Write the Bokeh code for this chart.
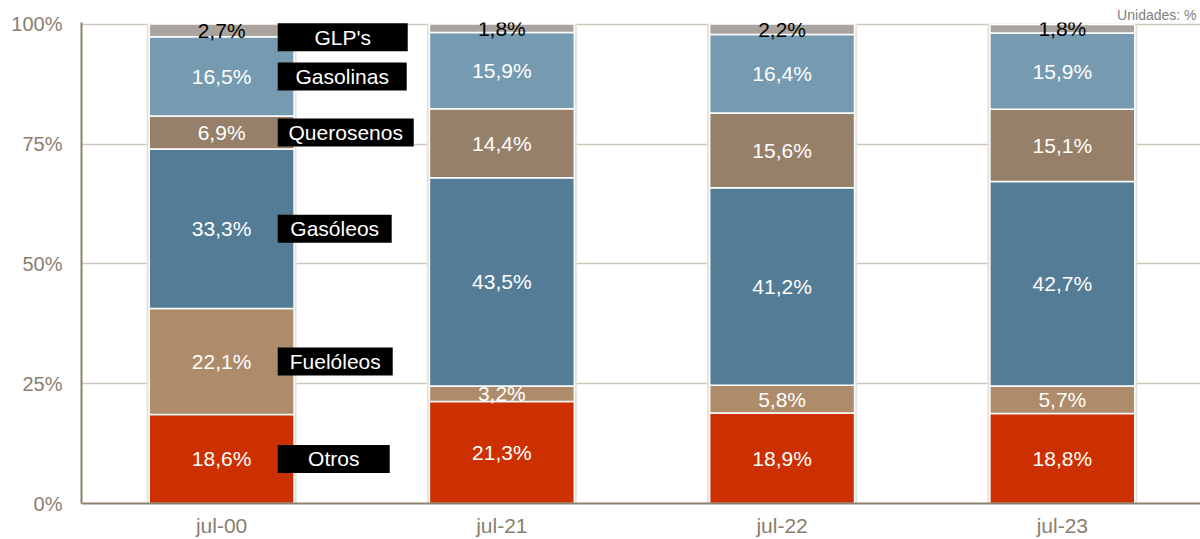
from bokeh.plotting import figure
from bokeh.models import ColumnDataSource, Range1d, FixedTicker
from bokeh.core.properties import value
from bokeh.embed import file_html
from bokeh.resources import INLINE

categories = ["jul-00", "jul-21", "jul-22", "jul-23"]
series = ["Otros", "Fuelóleos", "Gasóleos", "Querosenos", "Gasolinas", "GLP's"]
otros = [18.6, 21.3, 18.9, 18.8]
fueloleos = [22.1, 3.2, 5.8, 5.7]
gasoleos = [33.3, 43.5, 41.2, 42.7]
querosenos = [6.9, 14.4, 15.6, 15.1]
gasolinas = [16.5, 15.9, 16.4, 15.9]
glps = [2.7, 1.8, 2.2, 1.8]
y_ticks = [0, 25, 50, 75, 100]
units_note = "Unidades: %"

values = [otros, fueloleos, gasoleos, querosenos, gasolinas, glps]
colors = ["#cc3000", "#ad8b6b", "#547c96", "#978069", "#769bb0", "#aba49e"]
label_colors = ["white", "white", "white", "white", "white", "black"]
box_widths = [112, 115, 114, 136, 129, 130]

FONT = "Liberation Sans"
xs = [i + 0.5 for i in range(len(categories))]

data = {"x": xs}
for name, vals in zip(series, values):
    data[name] = vals
src = ColumnDataSource(data)

p = figure(width=1200, height=539, output_backend="svg", toolbar_location=None,
           x_range=Range1d(0, 3.993), y_range=Range1d(0, 100.4),
           min_border_left=81, min_border_right=0, min_border_top=22, min_border_bottom=34,
           title=units_note)
p.title.align = "right"
p.title.text_font = FONT
p.title.text_font_size = "14px"
p.title.text_font_style = "normal"
p.title.text_color = "#808080"
p.title.standoff = 0
p.title.offset = 4
p.outline_line_color = None
p.background_fill_color = "white"
p.border_fill_color = "white"

# shadow behind bars
totals = [sum(v[i] for v in values) for i in range(len(categories))]
p.vbar(x=xs, top=totals, bottom=0, width=0.535, fill_color="#e4e0dc", line_color=None)

p.vbar_stack(series, x="x", width=0.517, source=src, fill_color=colors,
             line_color="white", line_width=1.5)

# value labels
lx, ly, lt, lc = [], [], [], []
for j, (name, vals) in enumerate(zip(series, values)):
    for i, v in enumerate(vals):
        base = sum(values[k][i] for k in range(j))
        lx.append(xs[i])
        ly.append(base + v / 2)
        lt.append(f"{v:.1f}%".replace(".", ","))
        lc.append(label_colors[j])
p.text(x=lx, y=ly, text=lt, text_color=lc, text_font=value(FONT),
       text_font_size="21px", text_align="center", text_baseline="middle")

# series name boxes next to first bar
bx, by, bt = [], [], []
for j, (name, vals) in enumerate(zip(series, values)):
    base = sum(values[k][0] for k in range(j))
    mid = min(base + vals[0] / 2, 97.3)
    bx.append(xs[0] + 0.2 + box_widths[j] / 2 / 280.0)
    by.append(mid)
    bt.append(name)
p.rect(x=bx, y=by, width=box_widths, height=28, width_units="screen",
       height_units="screen", fill_color="black", line_color=None)
p.text(x=bx, y=by, text=bt, text_color="white", text_font=value(FONT),
       text_font_size="21px", text_align="center", text_baseline="middle")

axis_col = "#8b806c"
label_col = "#8a7e6e"

p.xgrid.grid_line_color = None
p.ygrid.grid_line_color = "#cec7bb"
p.ygrid.grid_line_width = 1.5
p.ygrid.ticker = FixedTicker(ticks=y_ticks)

p.yaxis.ticker = FixedTicker(ticks=y_ticks)
p.yaxis.major_label_overrides = {t: f"{t}%" for t in y_ticks}
p.yaxis.axis_line_color = axis_col
p.yaxis.axis_line_width = 2
p.yaxis.major_tick_line_color = None
p.yaxis.minor_tick_line_color = None
p.yaxis.major_tick_out = 0
p.yaxis.major_tick_in = 0
p.yaxis.major_label_standoff = 19
p.yaxis.major_label_text_font = FONT
p.yaxis.major_label_text_font_size = "20px"
p.yaxis.major_label_text_color = label_col

p.xaxis.ticker = FixedTicker(ticks=xs)
p.xaxis.major_label_overrides = {x: c for x, c in zip(xs, categories)}
p.xaxis.axis_line_color = axis_col
p.xaxis.axis_line_width = 2
p.xaxis.major_tick_line_color = None
p.xaxis.minor_tick_line_color = None
p.xaxis.major_tick_out = 0
p.xaxis.major_tick_in = 0
p.xaxis.major_label_standoff = 10
p.xaxis.major_label_text_font = FONT
p.xaxis.major_label_text_font_size = "21px"
p.xaxis.major_label_text_color = label_col

open("out.html", "w").write(file_html(p, INLINE))
